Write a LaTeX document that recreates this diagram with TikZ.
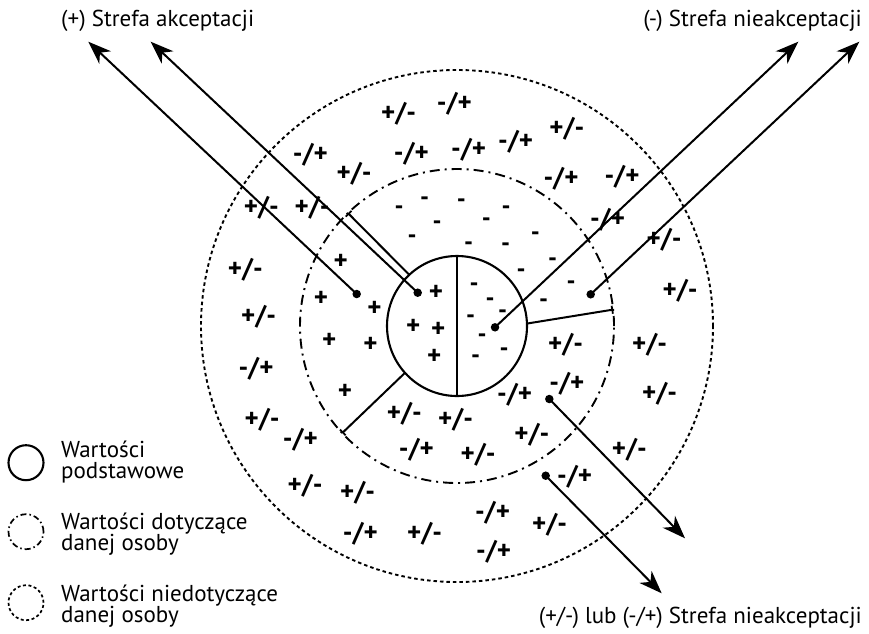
\documentclass[tikz,border=0pt]{standalone}
\usepackage{fontspec}
\setmainfont{PT Sans}
\usetikzlibrary{arrows.meta}
\begin{document}
\begin{tikzpicture}[x=1pt,y=-1pt,
  ring/.style={circle, draw, inner sep=0pt, outer sep=0pt},
  solidln/.style={line width=2.1pt},
  dashdotln/.style={line width=1.9pt, dash pattern=on 10pt off 5pt on 2pt off 5pt},
  dottedln/.style={line width=1.9pt, dash pattern=on 3.5pt off 3pt},
  arr/.style={line width=2pt, -{Stealth[length=23pt,width=17pt,inset=7pt]}},
  tickend/.style={line width=2pt, -{Bar[width=8pt,line width=1.8pt]}},
  pmtext/.style={font=\fontsize{27}{27}\selectfont\bfseries, inner sep=0pt},
  mntext/.style={font=\fontsize{25}{25}\selectfont\bfseries, inner sep=0pt},
  lbl/.style={font=\fontsize{23}{21}\selectfont, inner sep=0pt, align=left},
  dotn/.style={circle, fill, inner sep=0pt, minimum size=8.5pt}
]
\useasboundingbox (0,0) rectangle (869,633);

% circles
\node[ring, solidln, minimum size=140pt] (core) at (457,326) {};
\node[ring, dashdotln, minimum size=314pt] (mid) at (457,326) {};
\node[ring, dottedln, minimum size=512pt] (outer) at (457,326) {};

% core divider
\draw[solidln] (core.north) -- (core.south);

% sector division lines
\draw[tickend] (core.133.3) -- (mid.134.6);
\draw[tickend] (core.2.7) -- (mid.6.4);
\draw[tickend] (core.222.9) -- (mid.223.6);

% dots
\node[dotn] (d1) at (356.7,294) {};
\node[dotn] (d2) at (417.7,292.7) {};
\node[dotn] (d3) at (495,327.3) {};
\node[dotn] (d4) at (590.7,294.3) {};
\node[dotn] (d5) at (549.3,399) {};
\node[dotn] (d6) at (545.7,475.7) {};

% arrow ends
\coordinate (t1) at (88.3,41.7);
\coordinate (t2) at (150.7,41.7);
\coordinate (t3) at (798.3,41.7);
\coordinate (t4) at (859.3,41.7);
\coordinate (t5) at (685,538.3);
\coordinate (t6) at (661.7,593.3);

\draw[arr] (d1.center) -- (t1);
\draw[arr] (d2.center) -- (t2);
\draw[arr] (d3.center) -- (t3);
\draw[arr] (d4.center) -- (t4);
\draw[arr] (d5.center) -- (t5);
\draw[arr] (d6.center) -- (t6);

% zone labels
\node[lbl, anchor=west] (accept) at (61,20.7) {(+) Strefa akceptacji};
\node[lbl, anchor=east] (reject) at (862,20.7) {(-) Strefa nieakceptacji};
\node[lbl, anchor=east] (ambig) at (862,618) {(+/-) lub (-/+) Strefa nieakceptacji};

% legend
\node[ring, solidln, minimum size=35pt] (lg1) at (26,462.7) {};
\node[ring, line width=1.7pt, dash pattern=on 6pt off 3pt on 1.5pt off 3pt, minimum size=35pt] (lg2) at (26,531.7) {};
\node[ring, line width=1.7pt, dash pattern=on 3pt off 2.5pt, minimum size=35pt] (lg3) at (26,602.7) {};
\node[lbl, anchor=west] (lt1) at (61,461.7) {Wartości\\podstawowe};
\node[lbl, anchor=west] (lt2) at (61,533.8) {Wartości dotyczące\\danej osoby};
\node[lbl, anchor=west] (lt3) at (61,606.3) {Wartości niedotyczące\\danej osoby};

% +/- symbols
\foreach \p [count=\i] in {(398.6,113.3),(566.8,128.3),(354,173.3),(261.4,207.7),(312,207.7),(664,239.3),(245.4,269.3),(680,290.7),(258.6,316.7),(565.7,345),(649.6,345),(659.6,393.3),(262,419.3),(404.3,413.3),(455.7,419.3),(531.8,435),(478.2,455),(629.3,450),(305,486),(357.5,492.7),(549.6,525),(424.6,533.3)}
  \node[pmtext] (pm\i) at \p {+/-};
% -/+ symbols
\foreach \p [count=\i] in {(454.3,104),(310.4,155),(411.4,153.3),(468.6,149.3),(515.7,141.7),(561,179),(622,176.7),(607.5,220),(256,369),(566.8,383.3),(514.6,395),(300.4,440),(416.4,449.3),(574.6,476.7),(492.5,512.7),(360.4,533.3),(493.6,551.7)}
  \node[pmtext] (mp\i) at \p {-/+};
% + symbols
\foreach \p [count=\i] in {(340.7,261.7),(321,299),(374.6,309.3),(329.3,341),(370.4,345),(345,392.3),(436,293.3),(413.3,326.7),(438.3,330),(434.3,356.7)}
  \node[pmtext] (pl\i) at \p {+};
% - symbols
\foreach \p [count=\i] in {(399,208.3),(424.6,199.3),(461.4,201),(506,208.3),(437,223.3),(486.4,220),(412,236.7),(535.4,234),(468.6,244.3),(505.7,245),(552.5,260),(521,271.5),(571,282.7),(543.5,301),(474,285),(490,300),(470.7,316.7),(502.7,312.3),(482,336),(475.7,357),(504,350)}
  \node[mntext, yshift=-2pt] (mn\i) at \p {-};
\end{tikzpicture}
\end{document}
